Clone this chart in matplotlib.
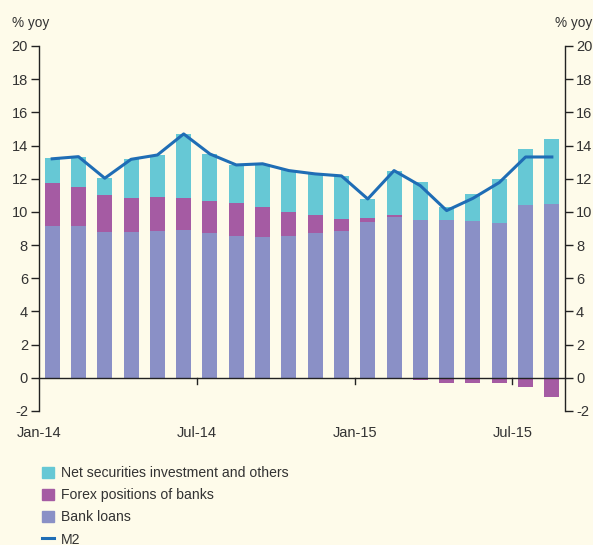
import numpy as np
import matplotlib
matplotlib.use('Agg')
import matplotlib.pyplot as plt
from matplotlib.patches import Patch
from matplotlib.lines import Line2D

months = ['Jan-14', 'Feb-14', 'Mar-14', 'Apr-14', 'May-14', 'Jun-14', 'Jul-14', 'Aug-14',
          'Sep-14', 'Oct-14', 'Nov-14', 'Dec-14', 'Jan-15', 'Feb-15', 'Mar-15', 'Apr-15',
          'May-15', 'Jun-15', 'Jul-15', 'Aug-15']
bank_loans = [9.17, 9.17, 8.80, 8.80, 8.85, 8.92, 8.70, 8.57, 8.51, 8.57,
              8.73, 8.85, 9.40, 9.72, 9.52, 9.52, 9.46, 9.34, 10.42, 10.50]
forex = [2.58, 2.33, 2.22, 2.04, 2.05, 1.92, 1.96, 1.97, 1.79, 1.43,
         1.09, 0.73, 0.24, 0.10, -0.15, -0.30, -0.30, -0.30, -0.55, -1.15]
net_securities = [1.50, 1.81, 1.03, 2.35, 2.53, 3.86, 2.83, 2.29, 2.60, 2.50,
                  2.48, 2.59, 1.14, 2.65, 2.28, 0.78, 1.62, 2.65, 3.38, 3.90]
m2 = [13.20, 13.33, 12.03, 13.17, 13.43, 14.70, 13.49, 12.83, 12.90, 12.49,
      12.29, 12.17, 10.78, 12.49, 11.58, 10.08, 10.82, 11.77, 13.31, 13.31]
tick_labels = ['Jan-14', 'Jul-14', 'Jan-15', 'Jul-15']

bg = '#fefbea'
c_net = '#66c8d5'
c_fx = '#a55ba3'
c_loan = '#8a90c6'
c_m2 = '#1f6db5'
txt = '#333333'

plt.rcParams['font.family'] = ['Liberation Sans', 'DejaVu Sans']
plt.rcParams['font.size'] = 10
plt.rcParams['axes.unicode_minus'] = False

fig = plt.figure(figsize=(5.93, 5.45), dpi=100, facecolor=bg)
ax = fig.add_axes([0.0658, 0.2459, 0.8870, 0.6697], facecolor=bg)

x = np.arange(len(months))
bank = np.array(bank_loans)
fx = np.array(forex)
net = np.array(net_securities)
w = 0.57

ax.bar(x, bank, w, color=c_loan, zorder=2)
ax.bar(x, fx, w, bottom=np.where(fx >= 0, bank, 0), color=c_fx, zorder=2)
ax.bar(x, net, w, bottom=bank + np.clip(fx, 0, None), color=c_net, zorder=2)
ax.plot(x, m2, color=c_m2, lw=2.2, zorder=3)

ax.set_xlim(-0.5, len(months) - 0.5)
ax.set_ylim(-2, 20)
ax.set_yticks(range(-2, 21, 2))

ax.spines['top'].set_visible(False)
ax.spines['bottom'].set_position(('data', 0))
for s in ['left', 'right', 'bottom']:
    ax.spines[s].set_color('#222222')
    ax.spines[s].set_linewidth(1.0)
    ax.spines[s].set_zorder(4)

ax.set_xticks([-0.5, 5.5, 11.5, 17.5])
ax.set_xticklabels(tick_labels)
ax.tick_params(axis='x', direction='in', length=0, pad=35, colors=txt, labelsize=10.5)
for xt in [5.5, 11.5, 17.5]:
    ax.plot([xt, xt], [0, -0.4], color='#222222', lw=1.0, zorder=4, clip_on=False)

ax.tick_params(axis='y', direction='out', length=6, width=1.0, color='#222222',
               labelcolor=txt, labelsize=10.5, left=True, right=True,
               labelleft=True, labelright=True, pad=2)

fig.text(0.021, 0.957, '% yoy', ha='left', va='center', color=txt, fontsize=9.8)
fig.text(0.999, 0.957, '% yoy', ha='right', va='center', color=txt, fontsize=9.8)

handles = [Patch(color=c_net), Patch(color=c_fx), Patch(color=c_loan),
           Line2D([], [], color=c_m2, lw=2.2)]
labels = ['Net securities investment and others', 'Forex positions of banks', 'Bank loans', 'M2']
fig.legend(handles, labels, loc='upper left', bbox_to_anchor=(0.062, 0.155), frameon=False,
           handlelength=0.85, handleheight=0.85, handletextpad=0.5, labelspacing=0.58,
           fontsize=10.1, labelcolor=txt, borderaxespad=0)

fig.savefig('out.png', dpi=100, facecolor=bg)
